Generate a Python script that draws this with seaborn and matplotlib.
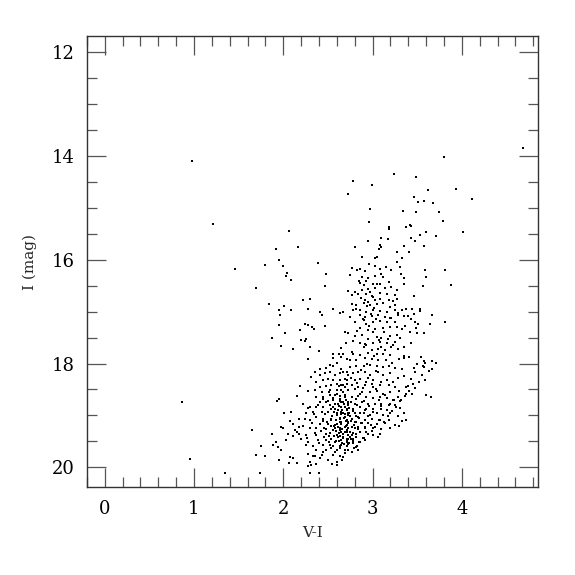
import numpy as np
import pandas as pd
import matplotlib
matplotlib.use("Agg")
import matplotlib.pyplot as plt
from matplotlib.ticker import MultipleLocator
import seaborn as sns

# ---- data: V-I colour and I magnitude ----
# lower-left part of the dense clump
vi_a = [2.35,2.31,2.41,2.47,2.52,2.58,2.63,2.71,2.37,2.45,2.50,2.56,2.63,2.69,2.41,2.48,2.54,2.60,2.65,2.71,
        2.19,2.35,2.43,2.52,2.60,2.67,2.73,2.28,2.15,1.95,1.93,2.37,2.45,2.52,2.60,2.63,2.69,2.41,2.48,2.56,
        2.61,2.67,2.73,2.22,2.30,2.37,2.45,2.52,2.58,2.65,2.71,2.09,2.01,2.26,2.33,2.43,2.50,2.60,2.67,2.73,
        2.18,2.07,2.30,2.37,2.45,2.54,2.63,2.71,2.11,2.41,2.50,2.58,2.65,2.71,1.98,2.00,2.18,2.13,2.30,2.37,
        2.46,2.56,2.63,2.71,1.65,2.15,2.18,2.05,1.87,2.11,2.26,2.37,2.48,2.60,2.67,2.73,2.20,2.03,1.92,2.28,
        2.39,2.48,2.58,2.65,2.71,1.88,1.94,1.98,2.26,2.33,2.45,2.52,2.63,2.71,1.75,2.37,2.48,2.60,1.70,1.80,
        1.95,2.07,2.11,2.28,2.33,2.43,2.56,2.63,2.41,2.30,2.15,2.06,2.28,2.31,2.37,2.60,2.60,1.74,2.30,2.40]
mag_a = [18.16,18.26,18.22,18.19,18.16,18.22,18.18,18.16,18.35,18.32,18.29,18.32,18.32,18.29,18.45,18.44,18.42,18.39,18.42,18.39,
         18.44,18.51,18.55,18.51,18.51,18.55,18.51,18.53,18.63,18.68,18.72,18.64,18.64,18.61,18.59,18.68,18.64,18.74,18.74,18.71,
         18.77,18.74,18.77,18.78,18.84,18.84,18.84,18.80,18.87,18.84,18.87,18.93,18.95,18.96,18.93,18.93,18.93,18.96,18.96,19.00,
         19.06,19.11,19.08,19.03,19.06,19.06,19.06,19.09,19.17,19.16,19.16,19.19,19.16,19.19,19.23,19.24,19.22,19.29,19.25,19.25,
         19.25,19.29,19.25,19.29,19.29,19.32,19.35,19.35,19.36,19.40,19.38,19.38,19.36,19.38,19.35,19.38,19.45,19.48,19.51,19.51,
         19.48,19.48,19.51,19.48,19.49,19.57,19.61,19.66,19.57,19.59,19.57,19.57,19.59,19.59,19.59,19.67,19.67,19.67,19.77,19.79,
         19.85,19.81,19.83,19.74,19.79,19.77,19.77,19.79,19.83,19.90,19.91,19.91,19.98,19.96,19.93,19.90,19.96,20.11,20.11,20.11]

# lower-right part of the dense clump
vi_b = [2.67,2.73,2.78,2.84,2.92,2.97,3.06,3.12,3.20,2.71,2.80,2.86,2.93,3.01,3.10,3.16,3.23,3.29,3.35,3.48,
        3.63,2.67,2.77,2.84,2.92,3.01,3.08,3.18,3.25,3.40,3.45,3.59,2.65,2.73,2.80,2.88,2.97,3.05,3.12,3.20,
        3.29,3.38,3.44,3.60,3.65,2.69,2.77,2.84,2.93,3.01,3.08,3.16,3.23,3.31,2.65,2.73,2.80,2.88,2.95,3.03,
        3.10,3.19,3.25,2.69,2.78,2.86,2.93,3.01,3.10,3.16,3.31,3.35,2.65,2.73,2.80,2.90,2.97,3.05,3.12,3.20,
        2.69,2.77,2.84,2.92,2.99,3.08,3.18,3.38,3.33,2.65,2.73,2.80,2.88,2.95,3.05,3.14,3.25,3.30,2.69,2.77,
        2.84,2.92,3.01,3.10,3.20,2.65,2.71,2.78,2.86,2.95,3.08,2.67,2.75,2.82,2.90,3.01,3.06,2.71,2.78,2.86,
        2.92,2.65,2.73,2.82,2.69,2.77,2.84,2.67]
mag_b = [18.16,18.22,18.19,18.16,18.16,18.22,18.16,18.22,18.19,18.32,18.32,18.29,18.35,18.32,18.35,18.32,18.35,18.27,18.24,18.16,
         18.14,18.42,18.42,18.45,18.42,18.45,18.42,18.42,18.45,18.44,18.40,18.31,18.51,18.51,18.50,18.55,18.55,18.53,18.58,18.55,
         18.64,18.59,18.58,18.61,18.65,18.61,18.64,18.63,18.64,18.67,18.64,18.67,18.71,18.72,18.74,18.74,18.77,18.74,18.77,18.77,
         18.77,18.77,18.80,18.83,18.87,18.83,18.87,18.88,18.87,18.90,18.85,18.95,18.93,18.95,18.96,18.95,18.99,18.96,18.99,18.96,
         19.03,19.06,19.03,19.08,19.06,19.09,19.08,19.08,19.10,19.12,19.15,19.12,19.15,19.14,19.17,19.15,19.19,19.21,19.22,19.23,
         19.22,19.25,19.25,19.27,19.25,19.32,19.32,19.34,19.32,19.35,19.35,19.41,19.41,19.41,19.44,19.38,19.41,19.51,19.49,19.51,
         19.48,19.57,19.55,19.60,19.67,19.70,19.66,19.81]

# red clump / middle branch
vi_c = [2.00,2.39,3.27,2.04,2.03,2.09,2.48,2.77,2.86,2.83,2.96,3.03,3.08,3.15,3.21,2.75,2.88,2.95,3.03,3.12,
        2.86,2.93,3.01,3.08,2.47,2.73,2.80,2.88,2.95,3.03,3.14,3.21,3.27,2.77,2.84,2.93,2.99,3.08,3.16,3.25,
        2.22,2.30,2.92,2.95,3.03,3.08,3.18,3.27,2.77,2.82,2.90,2.97,3.05,3.12,3.20,3.25,2.01,2.09,2.28,2.41,
        2.43,2.56,2.63,2.67,2.78,2.86,2.93,3.01,3.08,3.16,3.25,1.96,2.86,2.92,2.99,3.06,3.14,3.21,3.29,2.75,
        2.24,2.28,2.32,2.47,2.80,2.90,2.93,3.01,3.08,3.16,3.25,2.19,2.34,2.02,2.69,2.73,2.86,2.95,3.03,3.12,
        3.20,3.27,2.80,2.88,2.95,3.05,3.10,3.20,3.27,2.20,2.24,2.26,2.78,2.86,2.93,3.01,3.08,3.16,3.25,1.98,
        2.11,2.30,2.90,2.99,3.06,3.14,3.21,3.29,2.40,2.56,2.62,2.67,2.77,2.78,2.86,2.95,3.05,3.12,3.20,2.56,
        2.65,2.71,2.75,2.82,2.92,2.99,3.06,2.28,2.48,2.56,2.65,2.75,2.82,2.90,2.97,3.05,3.12,3.18,3.25,2.41]
mag_c = [16.12,16.06,16.04,16.25,16.32,16.39,16.27,16.15,16.17,16.20,16.08,16.12,16.17,16.14,16.20,16.30,16.33,16.36,16.32,16.33,
         16.44,16.41,16.46,16.47,16.51,16.60,16.62,16.59,16.57,16.55,16.55,16.53,16.59,16.68,16.66,16.65,16.70,16.64,16.65,16.68,
         16.77,16.75,16.77,16.81,16.78,16.75,16.77,16.75,16.86,16.88,16.84,16.88,16.86,16.84,16.91,16.88,16.89,16.97,16.94,17.00,
         17.07,16.95,17.02,17.00,16.97,16.96,17.00,16.97,16.98,17.00,16.97,17.07,17.07,17.10,17.09,17.07,17.10,17.13,17.07,17.11,
         17.23,17.26,17.29,17.28,17.20,17.16,17.23,17.20,17.18,17.20,17.20,17.36,17.34,17.41,17.39,17.42,17.32,17.36,17.34,17.32,
         17.29,17.29,17.47,17.45,17.52,17.48,17.50,17.47,17.45,17.55,17.56,17.52,17.56,17.61,17.65,17.60,17.58,17.61,17.58,17.66,
         17.71,17.69,17.69,17.73,17.71,17.73,17.69,17.71,17.75,17.82,17.81,17.82,17.77,17.82,17.84,17.79,17.82,17.81,17.84,17.90,
         17.88,17.92,17.93,17.93,17.90,17.92,17.93,17.92,18.08,18.05,18.10,18.06,18.05,18.05,18.03,18.05,18.06,18.05,18.08,18.10]

# red edge of the middle branch
vi_d = [3.31,3.32,3.35,3.35,3.59,3.60,3.81,3.88,3.57,3.46,3.33,3.38,3.44,3.53,3.53,3.67,3.81,3.46,3.40,3.35,
        3.43,3.48,3.51,3.64,3.36,3.33,3.42,3.50,3.58,3.49,3.43,3.35,3.35,3.35,3.41,3.54,3.58,3.59,3.67,3.71,
        3.50,3.56,3.58,3.46,3.67,3.33,3.31]
mag_d = [16.14,16.27,16.36,16.47,16.20,16.34,16.20,16.49,16.51,16.70,16.96,16.94,16.94,16.94,16.98,17.06,17.20,17.05,17.09,17.09,
         17.15,17.20,17.23,17.24,17.28,17.34,17.39,17.41,17.42,17.32,17.60,17.69,17.86,17.90,17.88,17.87,17.95,17.99,17.95,17.98,
         18.01,18.05,18.06,18.08,18.10,18.10,17.50]

# upper giant branch
vi_e = [3.80,3.24,3.49,2.78,2.99,3.62,3.93,2.73,4.11,3.46,3.51,3.58,3.68,2.97,3.34,3.49,3.74,2.96,3.79,3.18,
        3.18,3.38,3.42,3.43,3.60,4.01,3.53,3.71,3.09,3.17,3.43,2.95,3.47,3.08,3.10,3.07,3.35,3.58,2.80,3.27,
        3.41,2.88,3.05,3.03,3.33,4.68]
mag_e = [14.02,14.35,14.40,14.48,14.56,14.65,14.64,14.74,14.83,14.79,14.89,14.86,14.90,15.03,15.05,15.08,15.07,15.27,15.26,15.36,
         15.40,15.37,15.33,15.35,15.46,15.46,15.53,15.54,15.58,15.60,15.58,15.64,15.64,15.71,15.75,15.80,15.73,15.73,15.75,15.84,
         15.85,15.95,15.94,15.97,15.96,13.84]

# sparse blue stars
vi_f = [0.98,1.21,2.06,1.92,2.17,1.95,1.79,1.46,1.70,1.84,1.95,1.95,1.87,0.87,0.96,1.35]
mag_f = [14.10,15.31,15.44,15.79,15.76,16.01,16.10,16.18,16.55,16.86,16.96,17.25,17.50,18.75,19.84,20.11]

# extra stars in the densest part of the lower clump (V-I, I)
core_pts = [
    (2.53,18.88),(2.57,18.93),(2.62,18.82),(2.66,18.90),(2.69,18.98),(2.74,18.85),(2.78,18.92),(2.55,19.02),
    (2.59,19.09),(2.64,19.12),(2.68,19.04),(2.76,19.10),(2.81,19.01),(2.49,19.13),(2.54,19.20),(2.61,19.23),
    (2.66,19.27),(2.70,19.20),(2.75,19.31),(2.79,19.18),(2.52,19.33),(2.57,19.40),(2.62,19.34),(2.67,19.44),
    (2.72,19.38),(2.76,19.46),(2.81,19.36),(2.84,19.27),(2.87,19.14),(2.86,18.96),(2.83,18.80),(2.47,18.98),
    (2.44,19.10),(2.42,19.30),(2.46,19.42),(2.51,19.52),(2.56,19.58),(2.62,19.50),(2.68,19.56),(2.74,19.53),
    (2.79,19.62),(2.69,19.72),(2.64,19.63),(2.58,19.71),(2.53,19.62),(2.50,18.72),(2.56,18.66),(2.63,18.73),
    (2.70,18.70),(2.76,18.75),(2.81,18.68),(2.86,18.59),(2.90,18.73),(2.92,18.90),(2.95,19.02),(2.98,19.18),
    (2.93,19.31),(2.89,19.43),(2.85,19.52),(2.99,19.30),(3.03,19.22),(3.07,19.08),(3.13,19.12),(3.17,19.02),
    (3.22,18.92),(3.26,18.83),(3.28,19.02),(3.32,18.70),(3.36,18.62),(3.41,18.52),(3.47,18.47),(3.52,18.35),
    (3.55,18.22),(3.43,18.30),(3.37,18.45),(3.30,18.52),(3.14,18.60),(3.07,18.70),(3.04,18.50),(2.99,18.40),
    (2.95,18.27),(2.89,18.47),(2.83,18.37),(2.76,18.27),(2.69,18.45),(2.62,18.43),(2.58,18.61),(2.51,18.55),
    (2.44,18.68),(2.39,18.79),(2.34,18.98),(2.32,19.14),(2.35,19.33),(2.27,19.43),(2.22,19.21),(2.24,19.06),
    (2.28,18.86),(2.40,19.54),(2.44,19.71),(2.36,19.79),(2.50,19.86),(2.55,19.93),(2.66,19.85),(2.72,19.66),
    (2.78,19.45),(2.83,19.58),(2.91,19.22),(2.96,18.82),(3.01,18.94),(3.10,18.82),(3.18,18.80),(3.24,18.70),
    (2.72,19.13),(2.60,19.16),(2.65,18.97),(2.71,18.89),(2.58,18.78),(2.64,18.62),(2.48,19.27),(2.59,19.30),
    (2.73,19.24),(2.67,19.36),(2.54,19.46),(2.61,19.42),(2.75,19.02),(2.80,19.24),
    (2.56,18.84),(2.60,18.99),(2.63,19.05),(2.70,19.11),(2.74,18.95),(2.77,19.06),(2.58,19.25),(2.63,19.28),
    (2.69,19.31),(2.71,19.45),(2.64,19.40),(2.59,19.50),(2.77,19.37),(2.82,19.13),(2.85,19.05),(2.68,18.78),
    (2.72,18.80),(2.61,18.89),(2.54,19.08),(2.51,19.40),(2.66,19.53),(2.78,19.53),(2.73,19.45),(2.57,19.20),
]
# extra stars along the red clump column (V-I, I)
clump_pts = [
    (2.90,16.48),(2.97,16.62),(3.00,16.72),(2.94,16.90),(3.02,16.93),(2.98,17.04),(3.04,17.15),(2.96,17.27),
    (3.00,17.40),(3.07,17.55),(2.92,17.62),(3.10,17.68),(2.87,16.73),(3.05,16.47),(2.89,17.14),(3.13,17.40),
    (3.17,17.52),(3.23,17.64),(3.02,17.86),(2.94,18.00),(2.87,18.12),(3.04,18.14),(3.15,17.93),(3.22,17.98),
    (3.30,17.92),(2.83,17.38),(2.81,16.95),(2.85,16.40),(2.92,16.22),(3.10,16.27),(3.18,16.42),(3.23,16.80),
    (3.28,17.02),(3.19,17.12),(2.70,17.60),(2.65,17.70),(2.60,17.98),(2.52,18.02),
]

vi_all = vi_a + vi_b + vi_c + vi_d + vi_e + vi_f + [p[0] for p in core_pts + clump_pts]
mag_all = mag_a + mag_b + mag_c + mag_d + mag_e + mag_f + [p[1] for p in core_pts + clump_pts]
df = pd.DataFrame({"V-I": vi_all, "I": mag_all})

x_ticks = [0, 1, 2, 3, 4]
y_ticks = [12, 14, 16, 18, 20]

# ---- plotting ----
sns.set_style("ticks")
plt.rcParams["font.family"] = ["DejaVu Serif"]

fig = plt.figure(figsize=(5.75, 5.75), dpi=100)
ax = fig.add_axes([0.151, 0.153, 0.785, 0.784])

sns.scatterplot(data=df, x="V-I", y="I", ax=ax, marker="s", s=3.2,
                color="black", linewidth=0, legend=False)

ax.set_xlim(-0.2, 4.855)
ax.set_ylim(20.38, 11.69)
ax.set_xticks(x_ticks)
ax.set_yticks(y_ticks)
ax.xaxis.set_minor_locator(MultipleLocator(0.2))
ax.yaxis.set_minor_locator(MultipleLocator(0.5))
ax.tick_params(which="both", direction="in", top=True, right=True, color="#555555")
ax.tick_params(which="major", length=13.5, width=0.9, labelsize=13, pad=9, labelcolor="black")
ax.tick_params(which="minor", length=7, width=0.9)
for sp in ax.spines.values():
    sp.set_color("#333333")
    sp.set_linewidth(1.0)

ax.set_xlabel("V-I", fontsize=11, labelpad=6)
ax.set_ylabel("I (mag)", fontsize=11, labelpad=10)

fig.savefig("out.png", dpi=100)
